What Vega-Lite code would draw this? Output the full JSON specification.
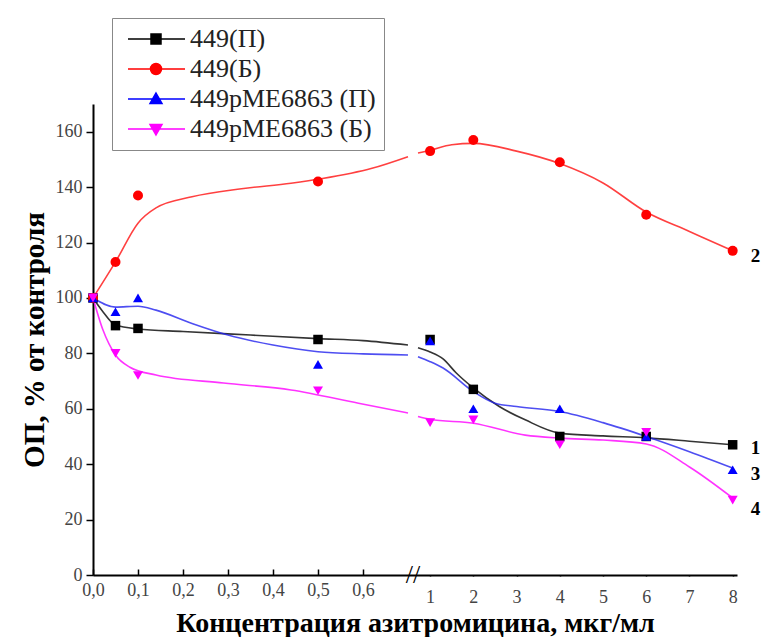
{
  "$schema": "https://vega.github.io/schema/vega-lite/v6.json",
  "width": 644,
  "height": 471,
  "autosize": "none",
  "padding": {"left": 93, "top": 104, "right": 25, "bottom": 62},
  "background": "white",
  "config": {
    "font": "Liberation Serif",
    "view": {"stroke": null},
    "legend": {
      "orient": "none",
      "legendX": 19,
      "legendY": -86,
      "labelFont": "Liberation Serif",
      "labelFontSize": 26,
      "labelColor": "#222",
      "symbolSize": 400,
      "symbolStrokeWidth": 1.5,
      "symbolOpacity": 1,
      "strokeColor": "#888",
      "fillColor": "white",
      "padding": 8,
      "rowPadding": 4,
      "labelOffset": 44,
      "labelLimit": 400
    }
  },
  "datasets": {
    "curves": [
      {"series": "449(П)", "seg": 1, "c": 0, "v": 100},
      {"series": "449(П)", "seg": 1, "c": 0.02, "v": 95.5},
      {"series": "449(П)", "seg": 1, "c": 0.05, "v": 90.2},
      {"series": "449(П)", "seg": 1, "c": 0.1, "v": 88.8},
      {"series": "449(П)", "seg": 1, "c": 0.2, "v": 87.9},
      {"series": "449(П)", "seg": 1, "c": 0.35, "v": 86.6},
      {"series": "449(П)", "seg": 1, "c": 0.5, "v": 85.3},
      {"series": "449(П)", "seg": 1, "c": 0.6, "v": 84.6},
      {"series": "449(П)", "seg": 1, "c": 0.7, "v": 83},
      {"series": "449(П)", "seg": 2, "c": 0.72, "v": 82},
      {"series": "449(П)", "seg": 2, "c": 1, "v": 80.5},
      {"series": "449(П)", "seg": 2, "c": 1.3, "v": 78},
      {"series": "449(П)", "seg": 2, "c": 1.6, "v": 73},
      {"series": "449(П)", "seg": 2, "c": 2, "v": 67.5},
      {"series": "449(П)", "seg": 2, "c": 2.6, "v": 60.8},
      {"series": "449(П)", "seg": 2, "c": 3.2, "v": 56},
      {"series": "449(П)", "seg": 2, "c": 4, "v": 51.2},
      {"series": "449(П)", "seg": 2, "c": 5, "v": 50.2},
      {"series": "449(П)", "seg": 2, "c": 6, "v": 49.5},
      {"series": "449(П)", "seg": 2, "c": 7, "v": 48.3},
      {"series": "449(П)", "seg": 2, "c": 8, "v": 47},
      {"series": "449(Б)", "seg": 1, "c": 0, "v": 100},
      {"series": "449(Б)", "seg": 1, "c": 0.05, "v": 113},
      {"series": "449(Б)", "seg": 1, "c": 0.1, "v": 127},
      {"series": "449(Б)", "seg": 1, "c": 0.14, "v": 132.5},
      {"series": "449(Б)", "seg": 1, "c": 0.22, "v": 136.5},
      {"series": "449(Б)", "seg": 1, "c": 0.33, "v": 139.4},
      {"series": "449(Б)", "seg": 1, "c": 0.44, "v": 141.4},
      {"series": "449(Б)", "seg": 1, "c": 0.51, "v": 143.1},
      {"series": "449(Б)", "seg": 1, "c": 0.62, "v": 146.8},
      {"series": "449(Б)", "seg": 1, "c": 0.7, "v": 151},
      {"series": "449(Б)", "seg": 2, "c": 0.72, "v": 152.3},
      {"series": "449(Б)", "seg": 2, "c": 1, "v": 153.3},
      {"series": "449(Б)", "seg": 2, "c": 1.5, "v": 155.3},
      {"series": "449(Б)", "seg": 2, "c": 2, "v": 155.8},
      {"series": "449(Б)", "seg": 2, "c": 3, "v": 153},
      {"series": "449(Б)", "seg": 2, "c": 4, "v": 148.5},
      {"series": "449(Б)", "seg": 2, "c": 5, "v": 141.5},
      {"series": "449(Б)", "seg": 2, "c": 6, "v": 131},
      {"series": "449(Б)", "seg": 2, "c": 7, "v": 124},
      {"series": "449(Б)", "seg": 2, "c": 8, "v": 117},
      {"series": "449pME6863 (П)", "seg": 1, "c": 0, "v": 100},
      {"series": "449pME6863 (П)", "seg": 1, "c": 0.05, "v": 96.7},
      {"series": "449pME6863 (П)", "seg": 1, "c": 0.1, "v": 97},
      {"series": "449pME6863 (П)", "seg": 1, "c": 0.14, "v": 95.6},
      {"series": "449pME6863 (П)", "seg": 1, "c": 0.22, "v": 90.8},
      {"series": "449pME6863 (П)", "seg": 1, "c": 0.3, "v": 86.6},
      {"series": "449pME6863 (П)", "seg": 1, "c": 0.4, "v": 83},
      {"series": "449pME6863 (П)", "seg": 1, "c": 0.5, "v": 80.6},
      {"series": "449pME6863 (П)", "seg": 1, "c": 0.6, "v": 79.8},
      {"series": "449pME6863 (П)", "seg": 1, "c": 0.7, "v": 79.4},
      {"series": "449pME6863 (П)", "seg": 2, "c": 0.72, "v": 78.8},
      {"series": "449pME6863 (П)", "seg": 2, "c": 1, "v": 77},
      {"series": "449pME6863 (П)", "seg": 2, "c": 1.3, "v": 74.7},
      {"series": "449pME6863 (П)", "seg": 2, "c": 2, "v": 66.2},
      {"series": "449pME6863 (П)", "seg": 2, "c": 2.5, "v": 62},
      {"series": "449pME6863 (П)", "seg": 2, "c": 3, "v": 60.8},
      {"series": "449pME6863 (П)", "seg": 2, "c": 4, "v": 59},
      {"series": "449pME6863 (П)", "seg": 2, "c": 5, "v": 55},
      {"series": "449pME6863 (П)", "seg": 2, "c": 6, "v": 50},
      {"series": "449pME6863 (П)", "seg": 2, "c": 7, "v": 44.5},
      {"series": "449pME6863 (П)", "seg": 2, "c": 8, "v": 38.6},
      {"series": "449pME6863 (Б)", "seg": 1, "c": 0, "v": 100},
      {"series": "449pME6863 (Б)", "seg": 1, "c": 0.022, "v": 88.5},
      {"series": "449pME6863 (Б)", "seg": 1, "c": 0.05, "v": 79.4},
      {"series": "449pME6863 (Б)", "seg": 1, "c": 0.082, "v": 75},
      {"series": "449pME6863 (Б)", "seg": 1, "c": 0.14, "v": 72.2},
      {"series": "449pME6863 (Б)", "seg": 1, "c": 0.29, "v": 69.3},
      {"series": "449pME6863 (Б)", "seg": 1, "c": 0.44, "v": 66.8},
      {"series": "449pME6863 (Б)", "seg": 1, "c": 0.59, "v": 62},
      {"series": "449pME6863 (Б)", "seg": 1, "c": 0.7, "v": 58.5},
      {"series": "449pME6863 (Б)", "seg": 2, "c": 0.72, "v": 57.2},
      {"series": "449pME6863 (Б)", "seg": 2, "c": 1, "v": 56.2},
      {"series": "449pME6863 (Б)", "seg": 2, "c": 2, "v": 54.8},
      {"series": "449pME6863 (Б)", "seg": 2, "c": 3.2, "v": 50.5},
      {"series": "449pME6863 (Б)", "seg": 2, "c": 4, "v": 49.4},
      {"series": "449pME6863 (Б)", "seg": 2, "c": 5, "v": 48.7},
      {"series": "449pME6863 (Б)", "seg": 2, "c": 6, "v": 47.3},
      {"series": "449pME6863 (Б)", "seg": 2, "c": 7, "v": 39},
      {"series": "449pME6863 (Б)", "seg": 2, "c": 8, "v": 27.8}
    ],
    "points": [
      {"series": "449(П)", "c": 0, "v": 100},
      {"series": "449(П)", "c": 0.05, "v": 90},
      {"series": "449(П)", "c": 0.1, "v": 89},
      {"series": "449(П)", "c": 0.5, "v": 85},
      {"series": "449(П)", "c": 1, "v": 85},
      {"series": "449(П)", "c": 2, "v": 67},
      {"series": "449(П)", "c": 4, "v": 50},
      {"series": "449(П)", "c": 6, "v": 50},
      {"series": "449(П)", "c": 8, "v": 47},
      {"series": "449(Б)", "c": 0, "v": 100},
      {"series": "449(Б)", "c": 0.05, "v": 113},
      {"series": "449(Б)", "c": 0.1, "v": 137},
      {"series": "449(Б)", "c": 0.5, "v": 142},
      {"series": "449(Б)", "c": 1, "v": 153},
      {"series": "449(Б)", "c": 2, "v": 157},
      {"series": "449(Б)", "c": 4, "v": 149},
      {"series": "449(Б)", "c": 6, "v": 130},
      {"series": "449(Б)", "c": 8, "v": 117},
      {"series": "449pME6863 (П)", "c": 0, "v": 100},
      {"series": "449pME6863 (П)", "c": 0.05, "v": 95},
      {"series": "449pME6863 (П)", "c": 0.1, "v": 100},
      {"series": "449pME6863 (П)", "c": 0.5, "v": 76},
      {"series": "449pME6863 (П)", "c": 1, "v": 84.5},
      {"series": "449pME6863 (П)", "c": 2, "v": 60},
      {"series": "449pME6863 (П)", "c": 4, "v": 60},
      {"series": "449pME6863 (П)", "c": 6, "v": 50},
      {"series": "449pME6863 (П)", "c": 8, "v": 38},
      {"series": "449pME6863 (Б)", "c": 0, "v": 100},
      {"series": "449pME6863 (Б)", "c": 0.05, "v": 80},
      {"series": "449pME6863 (Б)", "c": 0.1, "v": 72},
      {"series": "449pME6863 (Б)", "c": 0.5, "v": 66.5},
      {"series": "449pME6863 (Б)", "c": 1, "v": 55},
      {"series": "449pME6863 (Б)", "c": 2, "v": 56},
      {"series": "449pME6863 (Б)", "c": 4, "v": 47},
      {"series": "449pME6863 (Б)", "c": 6, "v": 51.5},
      {"series": "449pME6863 (Б)", "c": 8, "v": 27}
    ],
    "endlabels": [
      {"t": "2", "c": 8, "v": 115},
      {"t": "1", "c": 8, "v": 46},
      {"t": "3", "c": 8, "v": 36.5},
      {"t": "4", "c": 8, "v": 24}
    ],
    "brk": [{"t": "//", "c": 0.71, "v": 0}]
  },
  "layer": [
    {
      "mark": {"type": "rule", "color": "#666", "strokeWidth": 2, "strokeDash": [3, 3]},
      "encoding": {
        "y": {"datum": 100, "type": "quantitative"}
      }
    },
    {
      "data": {"name": "curves"},
      "transform": [{"filter": "datum.series == '449(П)'"}],
      "mark": {"type": "line", "interpolate": "monotone", "strokeWidth": 1.6, "color": "#111111", "opacity": 0.85},
      "encoding": {
        "x": {
          "field": "c", "type": "quantitative",
          "scale": {"domain": [0, 0.7, 0.72, 8.1], "range": [0, 315, 325, 644], "nice": false, "zero": false},
          "axis": {
            "title": "Концентрация азитромицина, мкг/мл",
            "titleFont": "Liberation Serif",
            "titleFontSize": 28,
            "titleFontWeight": "bold",
            "titleColor": "#000",
            "titlePadding": 3,
            "values": [0, 0.05, 0.1, 0.15, 0.2, 0.25, 0.3, 0.35, 0.4, 0.45, 0.5, 0.55, 0.6, 0.65, 1, 1.5, 2, 2.5, 3, 3.5, 4, 4.5, 5, 5.5, 6, 6.5, 7, 7.5, 8],
            "labelExpr": "datum.value >= 1 ? (datum.value % 1 == 0 ? format(datum.value, 'd') : '') : (round(datum.value * 20) % 2 == 0 ? replace(format(datum.value, '.1f'), '.', ',') : '')",
            "labelFont": "Liberation Serif",
            "labelFontSize": 18,
            "labelColor": "#444",
            "labelPadding": 12,
            "labelOverlap": false,
            "labelFlush": false,
            "grid": false,
            "domainColor": "#000",
            "domainWidth": 2,
            "tickColor": "#000",
            "tickWidth": 1.5,
            "tickSize": {"condition": {"test": "datum.value >= 1 ? datum.value % 1 == 0 : round(datum.value * 20) % 2 == 0", "value": -6}, "value": -3}
          }
        },
        "y": {
          "field": "v", "type": "quantitative",
          "scale": {"domain": [0, 170], "nice": false},
          "axis": {
            "title": "ОП, % от контроля",
            "titleFont": "Liberation Serif",
            "titleFontSize": 29,
            "titleFontWeight": "bold",
            "titleColor": "#000",
            "titlePadding": 6,
            "values": [0, 10, 20, 30, 40, 50, 60, 70, 80, 90, 100, 110, 120, 130, 140, 150, 160, 170],
            "labelExpr": "datum.value % 20 == 0 ? datum.label : ''",
            "labelFont": "Liberation Serif",
            "labelFontSize": 18,
            "labelColor": "#444",
            "labelPadding": 4,
            "grid": false,
            "domainColor": "#000",
            "domainWidth": 2,
            "tickColor": "#000",
            "tickWidth": 1.5,
            "tickSize": {"condition": {"test": "datum.value % 20 == 0", "value": 7}, "value": 3}
          }
        },
        "detail": {"field": "seg", "type": "nominal"}
      }
    },
    {
      "data": {"name": "curves"},
      "transform": [{"filter": "datum.series == '449(Б)'"}],
      "mark": {"type": "line", "interpolate": "monotone", "strokeWidth": 1.6, "color": "#ff0000", "opacity": 0.75},
      "encoding": {
        "x": {"field": "c", "type": "quantitative"},
        "y": {"field": "v", "type": "quantitative"},
        "detail": {"field": "seg", "type": "nominal"}
      }
    },
    {
      "data": {"name": "curves"},
      "transform": [{"filter": "datum.series == '449pME6863 (П)'"}],
      "mark": {"type": "line", "interpolate": "monotone", "strokeWidth": 1.6, "color": "#2222ee", "opacity": 0.8},
      "encoding": {
        "x": {"field": "c", "type": "quantitative"},
        "y": {"field": "v", "type": "quantitative"},
        "detail": {"field": "seg", "type": "nominal"}
      }
    },
    {
      "data": {"name": "curves"},
      "transform": [{"filter": "datum.series == '449pME6863 (Б)'"}],
      "mark": {"type": "line", "interpolate": "monotone", "strokeWidth": 1.6, "color": "#ff00ff", "opacity": 0.8},
      "encoding": {
        "x": {"field": "c", "type": "quantitative"},
        "y": {"field": "v", "type": "quantitative"},
        "detail": {"field": "seg", "type": "nominal"}
      }
    },
    {
      "data": {"name": "points"},
      "transform": [{"filter": "datum.series == '449(П)'"}],
      "mark": {"type": "point", "shape": "square", "filled": true, "size": 90, "color": "#000000", "opacity": 1},
      "encoding": {
        "x": {"field": "c", "type": "quantitative"},
        "y": {"field": "v", "type": "quantitative"}
      }
    },
    {
      "data": {"name": "points"},
      "transform": [{"filter": "datum.series == '449(Б)'"}],
      "mark": {"type": "point", "shape": "circle", "filled": true, "size": 100, "color": "#ff0000", "opacity": 1},
      "encoding": {
        "x": {"field": "c", "type": "quantitative"},
        "y": {"field": "v", "type": "quantitative"}
      }
    },
    {
      "data": {"name": "points"},
      "transform": [{"filter": "datum.series == '449pME6863 (П)'"}],
      "mark": {"type": "point", "shape": "triangle-up", "filled": true, "size": 100, "color": "#0000ff", "opacity": 1},
      "encoding": {
        "x": {"field": "c", "type": "quantitative"},
        "y": {"field": "v", "type": "quantitative"}
      }
    },
    {
      "data": {"name": "points"},
      "transform": [{"filter": "datum.series == '449pME6863 (Б)'"}],
      "mark": {"type": "point", "shape": "triangle-down", "filled": true, "size": 100, "color": "#ff00ff", "opacity": 1},
      "encoding": {
        "x": {"field": "c", "type": "quantitative"},
        "y": {"field": "v", "type": "quantitative"}
      }
    },
    {
      "data": {"name": "points"},
      "mark": {"type": "point", "filled": true, "opacity": 0, "size": 400},
      "encoding": {
        "x": {"field": "c", "type": "quantitative"},
        "y": {"field": "v", "type": "quantitative"},
        "color": {
          "field": "series", "type": "nominal",
          "scale": {"domain": ["449(П)", "449(Б)", "449pME6863 (П)", "449pME6863 (Б)"], "range": ["#000000", "#ff0000", "#0000ff", "#ff00ff"]},
          "legend": {"title": null, "labelFont": "Liberation Serif", "labelFontSize": 26}
        },
        "stroke": {
          "field": "series", "type": "nominal",
          "scale": {"domain": ["449(П)", "449(Б)", "449pME6863 (П)", "449pME6863 (Б)"], "range": ["#000000", "#ff0000", "#0000ff", "#ff00ff"]},
          "legend": {"title": null, "labelFont": "Liberation Serif", "labelFontSize": 26}
        },
        "shape": {
          "field": "series", "type": "nominal",
          "scale": {
            "domain": ["449(П)", "449(Б)", "449pME6863 (П)", "449pME6863 (Б)"],
            "range": [
              "M-0.5,0H5.2M1.8,-0.5H2.8V0.5H1.8Z",
              "M-0.5,0H5.2M1.75,0A0.55,0.55,0,1,1,2.85,0A0.55,0.55,0,1,1,1.75,0Z",
              "M-0.5,0H5.2M2.3,-0.6L2.9,0.45L1.7,0.45Z",
              "M-0.5,0H5.2M2.3,0.6L2.9,-0.45L1.7,-0.45Z"
            ]
          },
          "legend": {"title": null, "labelFont": "Liberation Serif", "labelFontSize": 26}
        }
      }
    },
    {
      "data": {"name": "brk"},
      "mark": {"type": "text", "fontSize": 26, "font": "Liberation Serif", "align": "center", "baseline": "middle", "color": "#000"},
      "encoding": {
        "x": {"field": "c", "type": "quantitative"},
        "y": {"field": "v", "type": "quantitative"},
        "text": {"field": "t"}
      }
    },
    {
      "data": {"name": "endlabels"},
      "mark": {"type": "text", "fontSize": 19, "fontWeight": "bold", "font": "Liberation Serif", "align": "left", "baseline": "middle", "dx": 18, "color": "#000"},
      "encoding": {
        "x": {"field": "c", "type": "quantitative"},
        "y": {"field": "v", "type": "quantitative"},
        "text": {"field": "t"}
      }
    }
  ]
}
